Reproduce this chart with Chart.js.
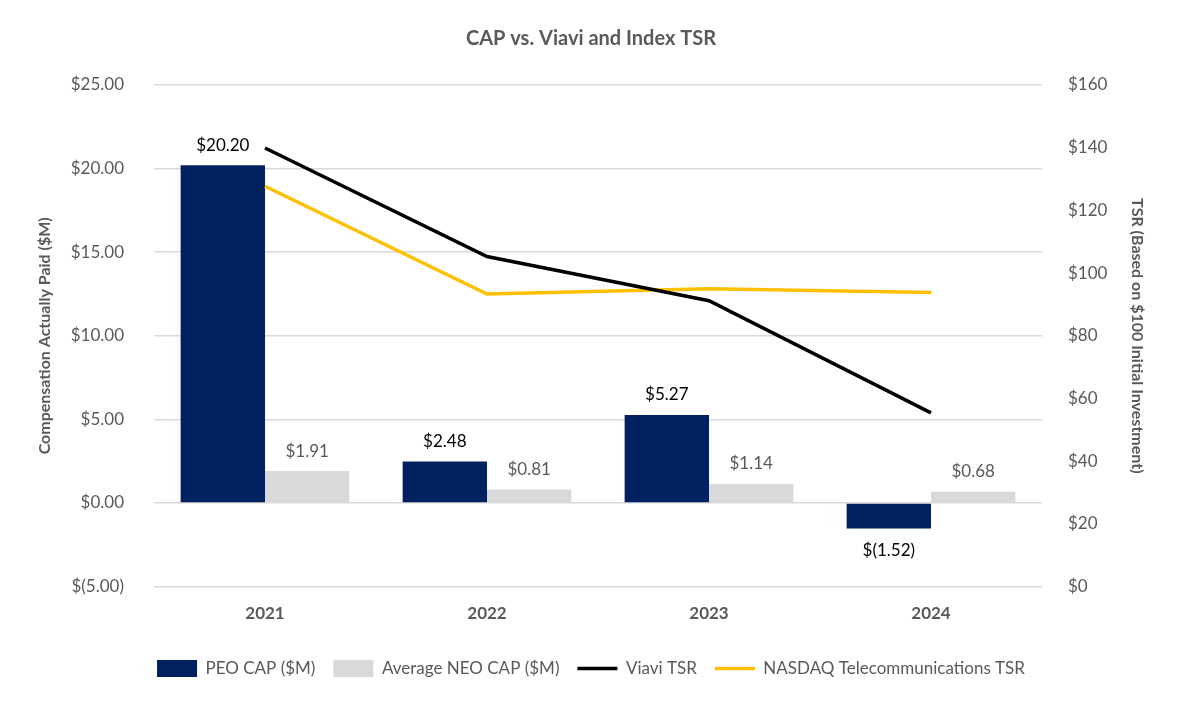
<!DOCTYPE html>
<html>
<head>
<meta charset="utf-8">
<script src="https://cdn.jsdelivr.net/npm/chart.js@4.4.1/dist/chart.umd.min.js"></script>
<style>
  body { margin: 0; background: #fff; }
  #wrap { width: 1180px; height: 720px; }
</style>
</head>
<body>
<div id="wrap"><canvas id="capChart" width="1180" height="720"></canvas></div>
<script>
// DATA
const years = ['2021', '2022', '2023', '2024'];
const peoCap = [20.20, 2.48, 5.27, -1.52];
const neoCap = [1.91, 0.81, 1.14, 0.68];
const viaviTsr = [139.9, 105.3, 91.2, 55.4];
const nasdaqTsr = [127.7, 93.3, 95.0, 93.8];

const grey = '#595959';
const font = 'Lato, "Open Sans", sans-serif';

function money(v) {
  return v < 0 ? '$(' + Math.abs(v).toFixed(2) + ')' : '$' + v.toFixed(2);
}

// labels au-dessus / au-dessous des barres
const barLabels = {
  id: 'barLabels',
  afterDatasetsDraw(chart) {
    const ctx = chart.ctx;
    ctx.save();
    ctx.font = '17px ' + font;
    ctx.textAlign = 'center';
    ctx.textBaseline = 'middle';
    [0, 1].forEach(i => {
      const meta = chart.getDatasetMeta(i);
      const data = chart.data.datasets[i].data;
      ctx.fillStyle = i === 0 ? '#000' : grey;
      meta.data.forEach((bar, j) => {
        const v = data[j];
        const y = v >= 0 ? bar.y - 20 : bar.y + 22;
        ctx.fillText(money(v), bar.x, y);
      });
    });
    ctx.restore();
  }
};

new Chart(document.getElementById('capChart'), {
  type: 'bar',
  data: {
    labels: years,
    datasets: [
      {
        label: 'PEO CAP ($M)',
        data: peoCap,
        backgroundColor: '#002060',
        yAxisID: 'y',
        order: 2,
        pointStyle: 'rect'
      },
      {
        label: 'Average NEO CAP ($M)',
        data: neoCap,
        backgroundColor: '#d9d9d9',
        yAxisID: 'y',
        order: 3,
        pointStyle: 'rect'
      },
      {
        type: 'line',
        label: 'Viavi TSR',
        data: viaviTsr,
        borderColor: '#000',
        backgroundColor: '#000',
        borderWidth: 3.5,
        pointRadius: 0,
        yAxisID: 'y1',
        order: 0,
        pointStyle: 'line'
      },
      {
        type: 'line',
        label: 'NASDAQ Telecommunications TSR',
        data: nasdaqTsr,
        borderColor: '#ffc000',
        backgroundColor: '#ffc000',
        borderWidth: 3.5,
        pointRadius: 0,
        yAxisID: 'y1',
        order: 1,
        pointStyle: 'line'
      }
    ]
  },
  options: {
    responsive: false,
    animation: false,
    layout: { padding: { left: 35, right: 33, top: 0, bottom: 33 } },
    datasets: {
      bar: { categoryPercentage: 0.76, barPercentage: 1 }
    },
    plugins: {
      tooltip: { enabled: false },
      title: {
        display: true,
        text: 'CAP vs. Viavi and Index TSR',
        color: grey,
        font: { family: font, size: 20, weight: 'bold' },
        padding: { top: 27, bottom: 34 }
      },
      legend: {
        position: 'bottom',
        labels: {
          usePointStyle: true,
          pointStyleWidth: 40,
          boxHeight: 18,
          padding: 18,
          color: grey,
          font: { family: font, size: 17 },
          sort: (a, b) => a.datasetIndex - b.datasetIndex
        }
      }
    },
    scales: {
      x: {
        grid: { display: false },
        border: { display: false },
        ticks: { color: grey, padding: 9, font: { family: font, size: 17, weight: 'bold' } },
        afterFit: s => { s.height = s.height + 9; }
      },
      y: {
        position: 'left',
        min: -5,
        max: 25,
        ticks: { stepSize: 5, color: grey, padding: 30, font: { family: font, size: 17 }, callback: v => money(v) },
        grid: { color: '#d9d9d9', lineWidth: 1.5, drawTicks: false },
        border: { display: false },
        title: {
          display: true,
          text: 'Compensation Actually Paid ($M)',
          color: grey,
          font: { family: font, size: 16, weight: 'bold' },
          padding: 0
        },
        afterFit: s => { s.width = 119; }
      },
      y1: {
        position: 'right',
        min: 0,
        max: 160,
        ticks: { stepSize: 20, color: grey, padding: 26, font: { family: font, size: 17 }, callback: v => '$' + v },
        grid: { display: false, drawTicks: false },
        border: { display: false },
        title: {
          display: true,
          text: 'TSR (Based on $100 Initial Investment)',
          color: grey,
          font: { family: font, size: 16, weight: 'bold' },
          padding: 0
        },
        afterFit: s => { s.width = 105; }
      }
    }
  },
  plugins: [barLabels]
});
</script>
</body>
</html>
